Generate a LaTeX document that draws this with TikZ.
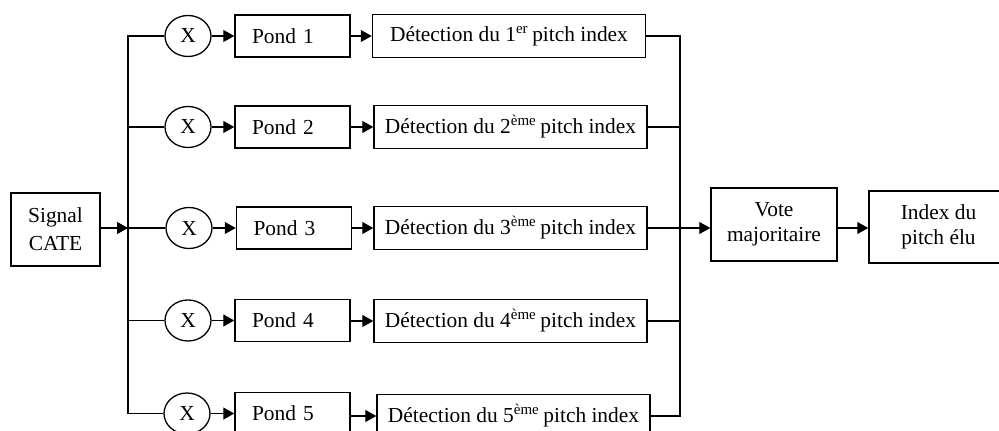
\documentclass[tikz,border=0pt]{standalone}
\usepackage{fontspec}
\setmainfont{Liberation Serif}
\usetikzlibrary{arrows.meta,shapes.geometric}

\begin{document}
\begin{tikzpicture}[x=0.5pt, y=-0.5pt, line width=0.65pt,
		font=\fontsize{10.7}{12.5}\selectfont,
		bloc/.style={draw, line width=0.75pt, inner sep=0pt, align=center},
		pond/.style={bloc, minimum height=21pt, text width=40.5pt, inner xsep=8.5pt, align=left},
		detect/.style={bloc, minimum width=136.5pt, minimum height=21.5pt},
		mult/.style={draw, ellipse, inner sep=0pt, minimum width=23pt, minimum height=20.5pt},
		fleche/.style={-{Triangle[length=5.5pt,width=6pt]}}]
		\clip (0,0) rectangle (999,431);

		% entree
		\node[bloc, minimum width=44.5pt, minimum height=36.5pt, font=\fontsize{10.7}{14}\selectfont] (signal) at (55.5,229.5) {Signal\\CATE};
		\coordinate (busG) at (128,228);

		% multiplieurs
		\node[mult] (c1) at (188,36) {X};
		\node[mult] (c2) at (188,127) {X};
		\node[mult] (c3) at (189,228) {X};
		\node[mult] (c4) at (188,320.5) {X};
		\node[mult] (c5) at (187,413.5) {X};

		% ponderations
		\node[pond] (p1) at (292.5,36) {Pond 1};
		\node[pond] (p2) at (292.5,127) {Pond 2};
		\node[pond] (p3) at (294,228) {Pond 3};
		\node[pond] (p4) at (292.5,320.5) {Pond 4};
		\node[pond] (p5) at (292.5,413.5) {Pond 5};

		% detection
		\node[detect] (d1) at (509,36) {D\'etection du 1\textsuperscript{er}\,pitch index};
		\node[detect] (d2) at (510.5,127) {D\'etection du 2\textsuperscript{\`eme}\,pitch index};
		\node[detect] (d3) at (510.5,228) {D\'etection du 3\textsuperscript{\`eme}\,pitch index};
		\node[detect] (d4) at (510.5,321) {D\'etection du 4\textsuperscript{\`eme}\,pitch index};
		\node[detect] (d5) at (513.5,416) {D\'etection du 5\textsuperscript{\`eme}\,pitch index};
		\coordinate (busD) at (680,228);

		% vote
		\node[bloc, minimum width=63pt, minimum height=36.5pt] (vote) at (774,224.5) {Vote\\majoritaire};
		\node[bloc, minimum width=69.5pt, minimum height=36pt] (idx) at (938.5,227) {Index du\\pitch \'elu};

		% liaisons
		\draw[fleche] (signal.east |- busG) -- (busG);
		\draw (c1.west) -| (busG) |- (c5.west);
		\draw (c2.west) -- (c2.west -| busG);
		\draw (c3.west) -- (busG);
		\draw (c4.west) -- (c4.west -| busG);

		\draw[fleche] (c1) -- (p1);
		\draw[fleche] (c2) -- (p2);
		\draw[fleche] (c3) -- (p3);
		\draw[fleche] (c4) -- (p4);
		\draw[fleche] (c5) -- (p5);

		\draw[fleche] (p1) -- (d1);
		\draw[fleche] (p2) -- (d2);
		\draw[fleche] (p3) -- (d3);
		\draw[fleche] (p4.east |- d4.west) -- (d4.west);
		\draw[fleche] (p5.east |- d5.west) -- (d5.west);

		\draw (d1.east) -| (busD) |- (d5.east);
		\draw (d2.east) -- (d2.east -| busD);
		\draw (d4.east) -- (d4.east -| busD);
		\draw[fleche] (d3.east) -- (d3.east -| vote.west);
		\draw[fleche] (vote.east |- d3.east) -- (d3.east -| idx.west);
	\end{tikzpicture}
\end{document}
